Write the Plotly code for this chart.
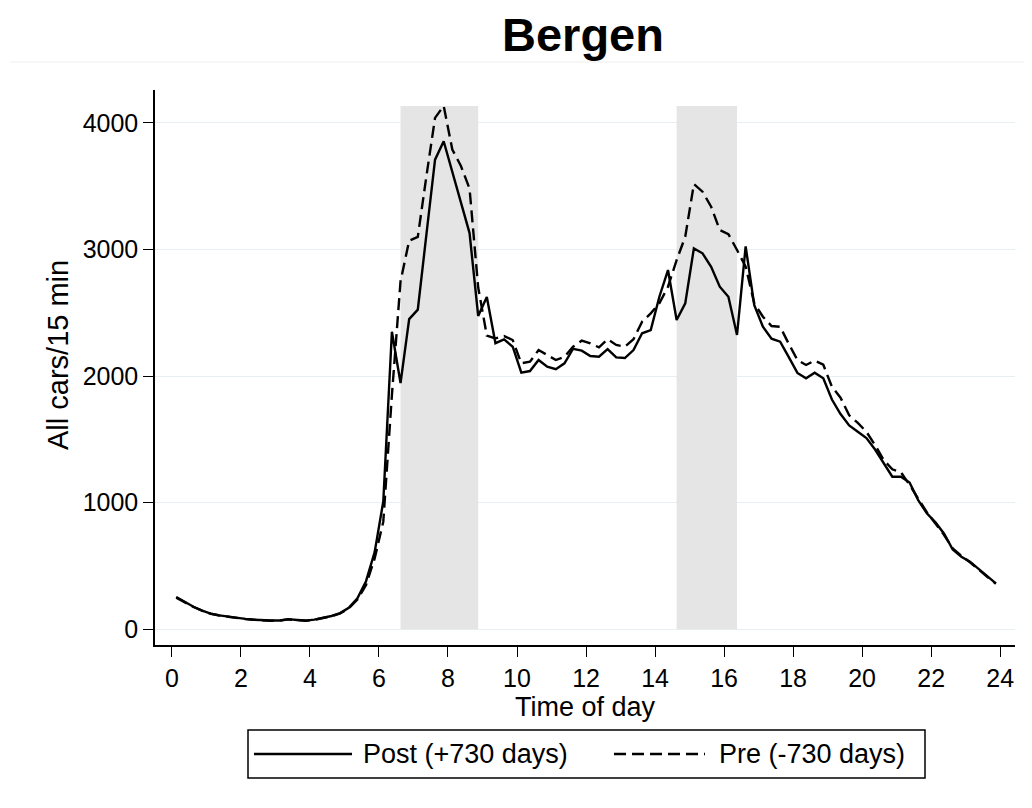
import plotly.graph_objects as go

# ---- data (15-minute intervals, mid-points) ----
time_of_day = [0.125 + 0.25 * k for k in range(96)]

post_730 = [255, 215, 178, 148, 124, 110, 99, 90, 82, 76, 71, 69,
            70, 80, 74, 69, 76, 88, 105, 128, 170, 245, 380, 610,
            1010, 2350, 1945, 2450, 2525, 3120, 3710, 3855, 3610, 3370, 3130, 2475,
            2625, 2260, 2290, 2232, 2027, 2040, 2127, 2074, 2054, 2101, 2216, 2201,
            2159, 2153, 2214, 2148, 2143, 2206, 2338, 2364, 2627, 2838, 2443, 2575,
            3009, 2970, 2864, 2706, 2627, 2325, 3025, 2560, 2390, 2295, 2272, 2150,
            2025, 1983, 2027, 1983, 1815, 1700, 1610, 1560, 1510, 1420, 1311, 1205,
            1205, 1160, 1021, 916, 845, 755, 630, 573, 534, 475, 420, 363]

pre_730 = [250, 212, 176, 147, 123, 109, 98, 89, 81, 75, 70, 68,
           69, 78, 73, 68, 75, 87, 104, 126, 165, 235, 350, 560,
           850, 1850, 2750, 3070, 3100, 3580, 4040, 4134, 3790, 3660, 3480, 2700,
           2320, 2298, 2316, 2285, 2101, 2114, 2206, 2167, 2127, 2153, 2232, 2280,
           2259, 2227, 2291, 2246, 2232, 2291, 2430, 2496, 2575, 2706, 2917, 3101,
           3517, 3457, 3338, 3154, 3122, 2996, 2864, 2575, 2469, 2396, 2390, 2255,
           2127, 2088, 2122, 2090, 1916, 1830, 1690, 1630, 1560, 1455, 1337, 1264,
           1240, 1140, 1030, 925, 835, 745, 640, 580, 530, 470, 415, 360]

peak_windows = [(6.625, 8.875), (14.625, 16.375)]

x_ticks = list(range(0, 25, 2))
y_ticks = [0, 1000, 2000, 3000, 4000]

series_names = ["Post (+730 days)", "Pre (-730 days)"]

FONT = "Liberation Sans, Arial, sans-serif"
DASH = "12px,6px"
LW = 2.4

# page body has an 8px margin; figure sized to fit inside the window
OFF = 8
FIG_W, FIG_H = 1016, 792
PL, PR, PT, PB = 155, 1015, 90, 645  # plot area in screen pixels

fig = go.Figure()
fig.add_trace(go.Scatter(x=time_of_day, y=post_730, mode="lines",
                         name=series_names[0],
                         line=dict(color="black", width=LW),
                         showlegend=False))
fig.add_trace(go.Scatter(x=time_of_day, y=pre_730, mode="lines",
                         name=series_names[1],
                         line=dict(color="black", width=LW, dash=DASH),
                         showlegend=False))

shade_top = max(pre_730)
for a, b in peak_windows:
    fig.add_shape(type="rect", xref="x", yref="y", x0=a, x1=b, y0=0, y1=shade_top,
                  fillcolor="#e5e5e5", line=dict(width=0), layer="between")

# manual legend (paper coordinates, from screen pixels)
def px_x(p):
    return (p - PL) / float(PR - PL)

def px_y(p):
    return (PB - p) / float(PB - PT)

fig.add_shape(type="rect", xref="paper", yref="paper",
              x0=px_x(248), x1=px_x(925), y0=px_y(778), y1=px_y(730),
              line=dict(color="black", width=1.5), fillcolor="white")
fig.add_shape(type="line", xref="paper", yref="paper",
              x0=px_x(254), x1=px_x(352), y0=px_y(754), y1=px_y(754),
              line=dict(color="black", width=LW))
fig.add_shape(type="line", xref="paper", yref="paper",
              x0=px_x(614), x1=px_x(705), y0=px_y(754), y1=px_y(754),
              line=dict(color="black", width=LW, dash=DASH))
fig.add_annotation(xref="paper", yref="paper", x=px_x(361), y=px_y(754),
                   text=series_names[0], showarrow=False, xanchor="left", yanchor="middle",
                   font=dict(family=FONT, size=27, color="black"))
fig.add_annotation(xref="paper", yref="paper", x=px_x(717), y=px_y(754),
                   text=series_names[1], showarrow=False, xanchor="left", yanchor="middle",
                   font=dict(family=FONT, size=27, color="black"))

# y axis title placed as in the reference
fig.add_annotation(xref="paper", yref="paper", x=px_x(58), y=px_y(355),
                   text="All cars/15 min", showarrow=False, textangle=-90,
                   xanchor="center", yanchor="middle",
                   font=dict(family=FONT, size=29, color="black"))

# faint frame line under title
fig.add_shape(type="line", xref="paper", yref="paper",
              x0=px_x(10), x1=px_x(1030), y0=px_y(62), y1=px_y(62),
              line=dict(color="#eeeeee", width=1))

fig.update_layout(
    width=FIG_W, height=FIG_H,
    margin=dict(l=PL - OFF, r=FIG_W - (PR - OFF), t=PT - OFF, b=FIG_H - (PB - OFF)),
    paper_bgcolor="white", plot_bgcolor="white",
    font=dict(family=FONT, color="black"),
    title=dict(text="<b>Bergen</b>", x=(583 - OFF) / FIG_W, xanchor="center",
               y=1 - (35 - OFF) / FIG_H, yanchor="middle",
               font=dict(family=FONT, size=47, color="black")),
    showlegend=False,
)
fig.update_xaxes(range=[-0.49, 24.43], tickvals=x_ticks, ticks="outside", ticklen=10,
                 tickwidth=1.2, tickcolor="black", showline=True, linecolor="black",
                 linewidth=1.5, showgrid=False, zeroline=False,
                 tickfont=dict(family=FONT, size=25, color="black"),
                 title=dict(text="Time of day", standoff=1,
                            font=dict(family=FONT, size=27, color="black")))
fig.update_yaxes(range=[-124, 4260], tickvals=y_ticks, ticks="outside", ticklen=10,
                 tickwidth=1.2, tickcolor="black", showline=True, linecolor="black",
                 linewidth=1.5, showgrid=True, gridcolor="#e6eff1", gridwidth=1.2,
                 zeroline=False,
                 tickfont=dict(family=FONT, size=25, color="black"))

fig.write_html("out.html")
